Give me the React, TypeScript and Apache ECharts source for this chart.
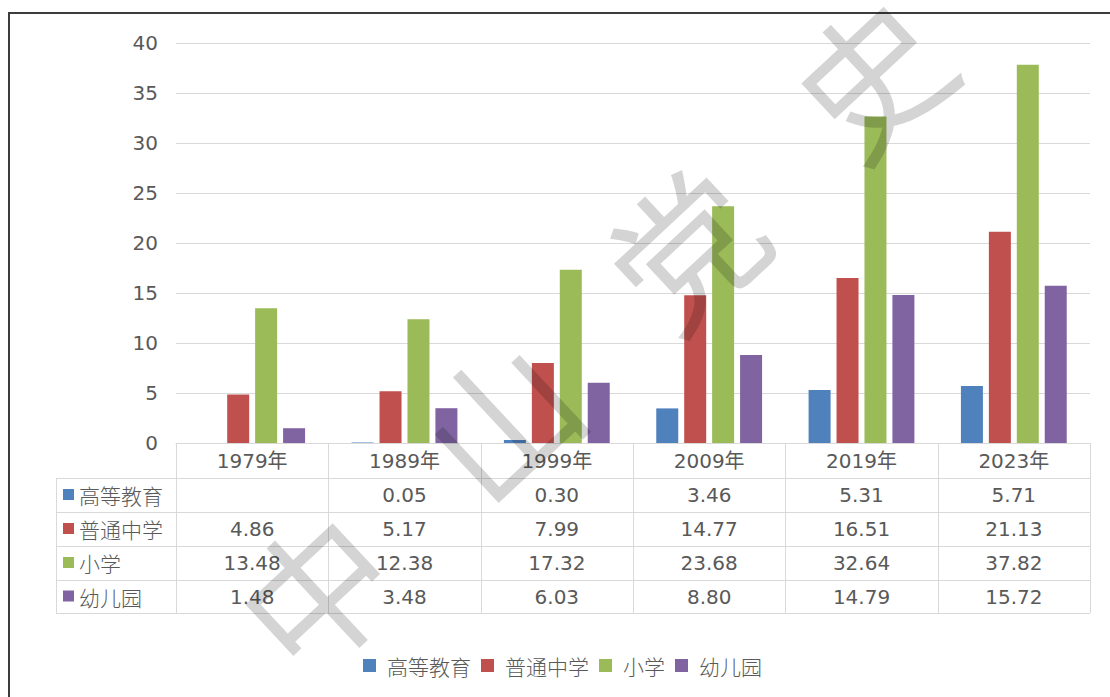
import React, { useEffect, useRef } from "react";
import * as echarts from "echarts";

const categories = ["1979年", "1989年", "1999年", "2009年", "2019年", "2023年"];
const seriesNames = ["高等教育", "普通中学", "小学", "幼儿园"];
const higherEd: (number | null)[] = [null, 0.05, 0.3, 3.46, 5.31, 5.71];
const middleSchool = [4.86, 5.17, 7.99, 14.77, 16.51, 21.13];
const primarySchool = [13.48, 12.38, 17.32, 23.68, 32.64, 37.82];
const kindergarten = [1.48, 3.48, 6.03, 8.8, 14.79, 15.72];
const yMin = 0;
const yMax = 40;
const yInterval = 5;
const watermarkChars = ["中", "山", "党", "史"];

const colors = ["#4F81BD", "#C0504D", "#9BBB59", "#8064A2"];
const W = 1110;
const H = 697;
const GRID_L = 176;
const GRID_R = 1090;
const GRID_T = 43;
const AXIS_Y = 443;
const ROW_YS = [478, 512, 546, 580, 613];
const LABEL_COL_L = 56;
const TXT = "#595959";
const LINE = "#d9d9d9";
const NUM_FONT = "'DejaVu Sans', 'Noto Sans CJK SC', sans-serif";
const CJK_FONT = "'Noto Sans CJK SC', sans-serif";

export default function App() {
  const ref = useRef<HTMLDivElement>(null);
  useEffect(() => {
    if (!ref.current) return;
    const chart = echarts.init(ref.current, undefined, { renderer: "svg" });
    const allSeries = [higherEd, middleSchool, primarySchool, kindergarten];
    const colW = (GRID_R - GRID_L) / categories.length;

    const graphics: any[] = [];
    graphics.push({
      type: "polyline",
      shape: { points: [[9, H + 5], [9, 13], [W + 5, 13]] },
      style: { stroke: "#3c3c3c", lineWidth: 2, fill: "none" },
      silent: true,
    });
    graphics.push({
      type: "line",
      shape: { x1: GRID_L, y1: AXIS_Y + 0.5, x2: GRID_R, y2: AXIS_Y + 0.5 },
      style: { stroke: LINE, lineWidth: 1 },
      silent: true,
    });
    ROW_YS.forEach((y) => {
      graphics.push({
        type: "line",
        shape: { x1: LABEL_COL_L, y1: y + 0.5, x2: GRID_R, y2: y + 0.5 },
        style: { stroke: LINE, lineWidth: 1 },
        silent: true,
      });
    });
    for (let i = 0; i <= categories.length; i++) {
      const x = Math.round(GRID_L + i * colW) + 0.5;
      graphics.push({
        type: "line",
        shape: { x1: x, y1: AXIS_Y, x2: x, y2: ROW_YS[ROW_YS.length - 1] },
        style: { stroke: LINE, lineWidth: 1 },
        silent: true,
      });
    }
    graphics.push({
      type: "line",
      shape: { x1: LABEL_COL_L + 0.5, y1: ROW_YS[0], x2: LABEL_COL_L + 0.5, y2: ROW_YS[ROW_YS.length - 1] },
      style: { stroke: LINE, lineWidth: 1 },
      silent: true,
    });
    seriesNames.forEach((name, r) => {
      const cy = (ROW_YS[r] + ROW_YS[r + 1]) / 2;
      graphics.push({
        type: "rect",
        shape: { x: 63, y: cy - 6, width: 11, height: 11 },
        style: { fill: colors[r] },
        silent: true,
      });
      graphics.push({
        type: "text",
        x: 79,
        y: cy,
        style: {
          text: name,
          fill: TXT,
          font: `300 21px ${CJK_FONT}`,
          align: "left",
          verticalAlign: "middle",
        },
        silent: true,
      });
      allSeries[r].forEach((v, c) => {
        if (v === null) return;
        graphics.push({
          type: "text",
          x: GRID_L + (c + 0.5) * colW,
          y: cy,
          style: {
            text: v.toFixed(2),
            fill: TXT,
            font: `20px ${NUM_FONT}`,
            align: "center",
            verticalAlign: "middle",
          },
          silent: true,
        });
      });
    });
    const wmStart = [312, 588];
    const wmStep = [185, -172];
    watermarkChars.forEach((ch, i) => {
      graphics.push({
        type: "text",
        x: wmStart[0] + i * wmStep[0],
        y: wmStart[1] + i * wmStep[1],
        rotation: 0.75,
        z: 100,
        style: {
          text: ch,
          fill: "rgba(0,0,0,0.17)",
          font: `normal 148px ${CJK_FONT}`,
          align: "center",
          verticalAlign: "middle",
        },
        silent: true,
      });
    });

    chart.setOption({
      animation: false,
      color: colors,
      grid: {
        left: GRID_L,
        right: W - GRID_R,
        top: GRID_T,
        bottom: H - AXIS_Y,
        containLabel: false,
      },
      legend: {
        data: seriesNames,
        left: 358,
        top: 650,
        icon: "rect",
        itemWidth: 13,
        itemHeight: 13,
        itemGap: 10,
        textStyle: {
          color: TXT,
          fontSize: 21,
          fontFamily: CJK_FONT,
          fontWeight: 300,
          padding: [0, 0, 0, 6],
        },
      },
      xAxis: {
        type: "category",
        data: categories,
        axisLine: { show: true, lineStyle: { color: LINE } },
        axisTick: { show: false },
        axisLabel: {
          color: TXT,
          fontSize: 20,
          fontFamily: NUM_FONT,
          margin: 8,
          lineHeight: 20,
        },
      },
      yAxis: {
        type: "value",
        min: yMin,
        max: yMax,
        interval: yInterval,
        axisLine: { show: false },
        axisTick: { show: false },
        splitLine: { lineStyle: { color: LINE, width: 1 } },
        axisLabel: {
          color: TXT,
          fontSize: 20,
          fontFamily: NUM_FONT,
          margin: 18,
        },
      },
      series: seriesNames.map((name, i) => ({
        name,
        type: "bar",
        data: allSeries[i].map((v) => (v === null ? "-" : v)),
        barWidth: 22,
        barGap: "27%",
        itemStyle: { color: colors[i] },
      })),
      graphic: graphics,
    });
    return () => chart.dispose();
  }, []);
  return (
    <div
      ref={ref}
      style={{ position: "fixed", left: 0, top: 0, width: W, height: H, background: "#fff" }}
    />
  );
}
